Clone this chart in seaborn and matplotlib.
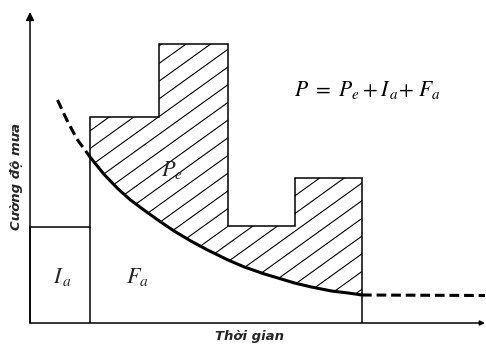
import numpy as np
import seaborn as sns
import matplotlib.pyplot as plt
from matplotlib.patches import Polygon
from matplotlib.collections import LineCollection

# Rainfall intensity blocks (time edges and intensities)
bar_edges = [0.0, 0.896, 1.93, 2.955, 3.948, 4.955]
bar_heights = [9.65, 20.6, 27.9, 9.7, 14.5]

# Infiltration curve
curve_dash_t = [0.41, 0.55, 0.70, 0.896]
curve_dash_f = [22.3, 20.3, 18.4, 16.6]
curve_t = [0.896, 1.10, 1.30, 1.50, 1.70, 1.93, 2.15, 2.40, 2.65, 2.955,
           3.20, 3.50, 3.75, 3.948, 4.20, 4.50, 4.75, 4.955]
curve_f = [16.6, 14.9, 13.5, 12.3, 11.3, 10.2, 9.2, 8.2, 7.3, 6.3,
           5.6, 4.9, 4.4, 4.0, 3.6, 3.2, 3.0, 2.8]
tail_t = [4.955, 6.79]
tail_f = [2.8, 2.75]

x_max = 6.79
y_max = 31.1

sns.set_theme(style="white")
plt.rcParams["lines.scale_dashes"] = False
plt.rcParams["mathtext.fontset"] = "stix"

fig = plt.figure(figsize=(4.86, 3.44), dpi=100)
ax = fig.add_axes([0, 0, 1, 1])
ax.set_xlim(-0.448, 6.806)
ax.set_ylim(-2.1, 32.3)
ax.axis("off")

# Hatched effective-rain area: between block tops and the curve
top = []
for i in range(1, len(bar_heights)):
    top.append((bar_edges[i], bar_heights[i]))
    top.append((bar_edges[i + 1], bar_heights[i]))
bottom = list(zip(curve_t, curve_f))[::-1]
area = Polygon(top + bottom, closed=True, facecolor="none", edgecolor="none")
ax.add_patch(area)

slope = 4.82
segs = []
for k in range(-20, 10):
    c = 11.36 + 1.77 * k
    segs.append([(0.8, slope * 0.8 + c), (5.1, slope * 5.1 + c)])
hatch = LineCollection(segs, colors="black", linewidths=0.8)
ax.add_collection(hatch)
hatch.set_clip_path(area)

# Block outline (hyetograph) and the split between I_a and F_a
ax.stairs(bar_heights, bar_edges, baseline=0, color="black", linewidth=1.1)
ax.vlines(bar_edges[1], 0, bar_heights[0], color="black", linewidth=1.1)

# Curve: dashed head, solid body, dashed tail
sns.lineplot(x=curve_dash_t, y=curve_dash_f, color="black", lw=2.2, ax=ax)
ax.lines[-1].set_dashes((7, 3.5))
sns.lineplot(x=curve_t, y=curve_f, color="black", lw=2.2, ax=ax)
sns.lineplot(x=tail_t, y=tail_f, color="black", lw=2.2, ax=ax)
ax.lines[-1].set_dashes((7, 3.5))

# Axes with arrows
ax.annotate("", xy=(0, y_max), xytext=(0, 0),
            arrowprops=dict(arrowstyle="-|>", color="black", lw=1.1,
                            mutation_scale=12, shrinkA=0, shrinkB=0))
ax.annotate("", xy=(x_max, 0), xytext=(0, 0),
            arrowprops=dict(arrowstyle="-|>", color="black", lw=1.1,
                            mutation_scale=7, shrinkA=0, shrinkB=0))

# Labels
ax.text(5.03, 23.3, r"$P\ =\ P_e + I_{\,a}\!+\,F_a$", fontsize=15.5,
        ha="center", va="center", color="black")
ax.text(2.12, 15.3, r"$P_e$", fontsize=16, ha="center", va="center")
ax.text(0.48, 4.6, r"$I_{\,a}$", fontsize=16, ha="center", va="center")
ax.text(1.61, 4.6, r"$F_a$", fontsize=16, ha="center", va="center")

ax.text(-0.209, 14.7, "Cường độ mưa", rotation=90, fontsize=9.5,
        fontweight="bold", fontstyle="italic", ha="center", va="center")
ax.text(3.28, -1.35, "Thời gian", fontsize=9.5, fontweight="bold",
        fontstyle="italic", ha="center", va="center")

fig.savefig("out.png", dpi=100)
